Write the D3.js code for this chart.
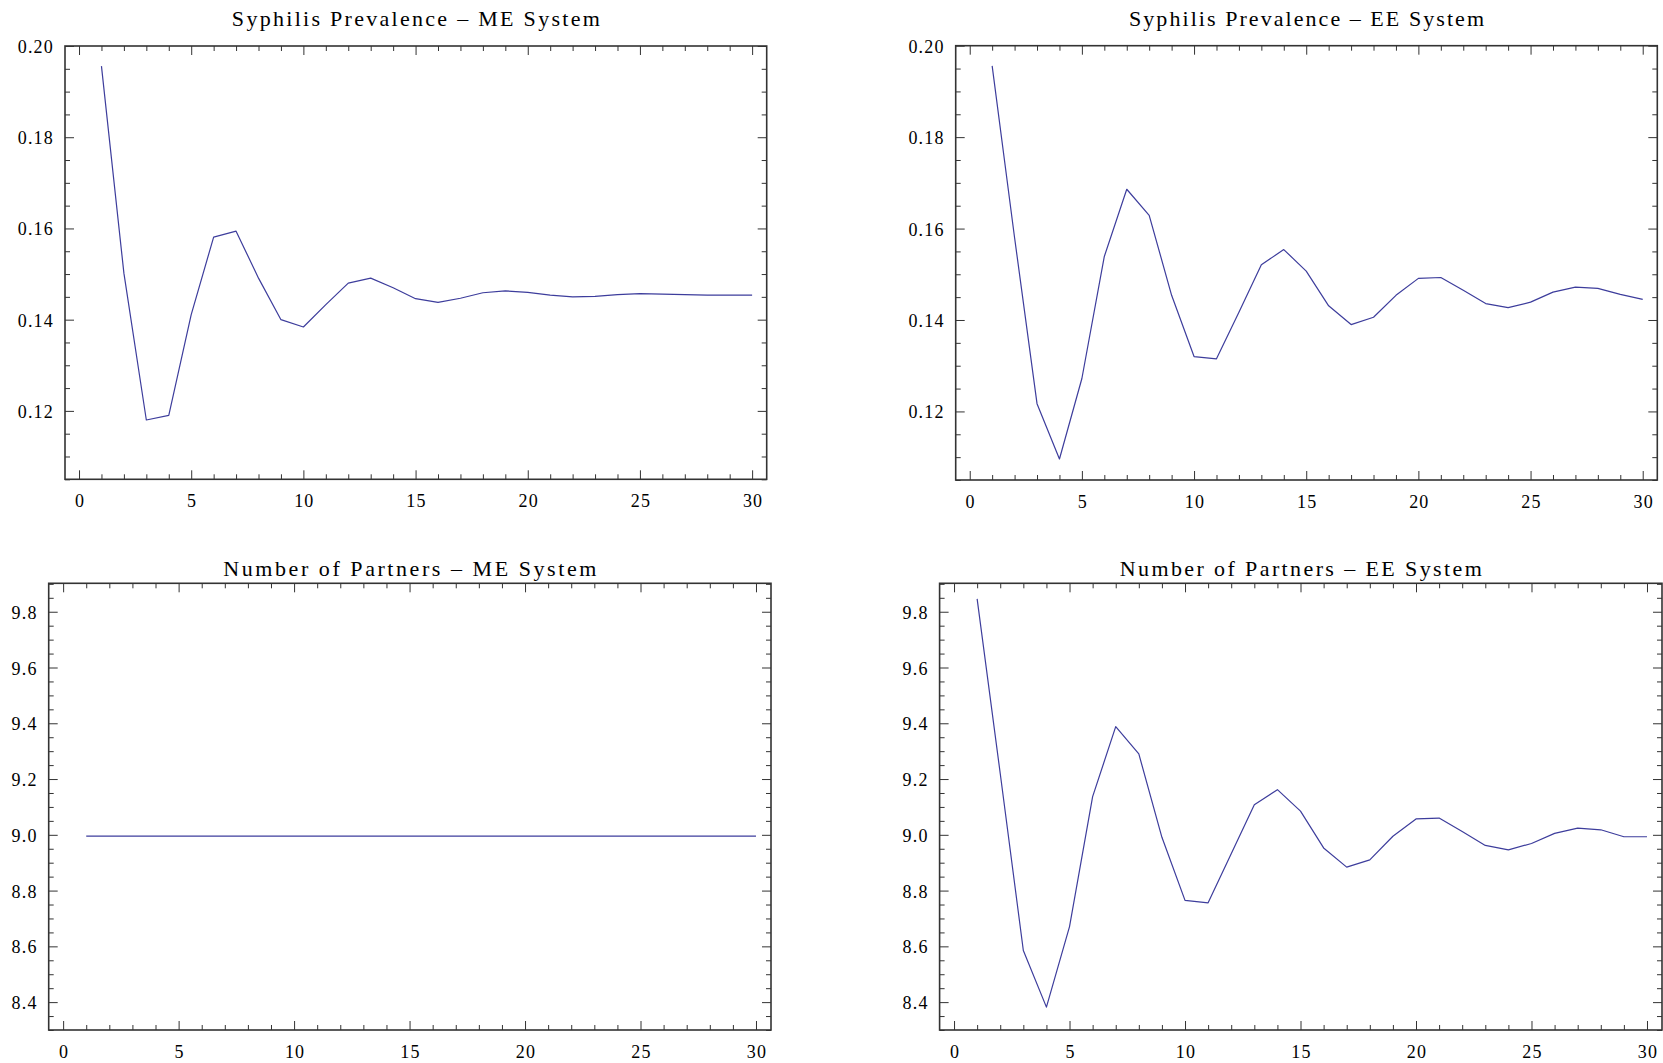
<!DOCTYPE html>
<html>
<head>
<meta charset="utf-8">
<script src="https://cdn.jsdelivr.net/npm/d3@7"></script>
<style>
  html, body { margin: 0; padding: 0; background: #fff; }
  svg { display: block; }
  svg text { font-family: 'Liberation Serif', 'DejaVu Serif', serif; fill: #000; }
</style>
</head>
<body>
<svg id="chart" width="1663" height="1063"></svg>
<script>
// ---------------- data ----------------
const steps = [1,2,3,4,5,6,7,8,9,10,11,12,13,14,15,16,17,18,19,20,21,22,23,24,25,26,27,28,29,30];

const prevalenceME = [0.1956, 0.1502, 0.1180, 0.1190, 0.1411, 0.1581, 0.1594, 0.1491, 0.1400, 0.1384,
                      0.1433, 0.1480, 0.1491, 0.1470, 0.1446, 0.1438, 0.1447, 0.1459, 0.1463, 0.1460,
                      0.1454, 0.1450, 0.1451, 0.1455, 0.1457, 0.1456, 0.1455, 0.1454, 0.1454, 0.1454];

const prevalenceEE = [0.1956, 0.1580, 0.1217, 0.1096, 0.1272, 0.1539, 0.1686, 0.1629, 0.1454, 0.1320,
                      0.1315, 0.1417, 0.1521, 0.1554, 0.1507, 0.1431, 0.1390, 0.1406, 0.1454, 0.1491,
                      0.1493, 0.1465, 0.1436, 0.1427, 0.1439, 0.1461, 0.1472, 0.1469, 0.1456, 0.1445];

const partnersME = [8.995, 8.995, 8.995, 8.995, 8.995, 8.995, 8.995, 8.995, 8.995, 8.995,
                    8.995, 8.995, 8.995, 8.995, 8.995, 8.995, 8.995, 8.995, 8.995, 8.995,
                    8.995, 8.995, 8.995, 8.995, 8.995, 8.995, 8.995, 8.995, 8.995, 8.995];

const partnersEE = [9.846, 9.220, 8.585, 8.382, 8.671, 9.137, 9.388, 9.290, 8.991, 8.765,
                    8.756, 8.932, 9.108, 9.162, 9.085, 8.953, 8.884, 8.910, 8.995, 9.057,
                    9.060, 9.012, 8.962, 8.946, 8.969, 9.005, 9.024, 9.018, 8.993, 8.993];

const xTickLabels = [0, 5, 10, 15, 20, 25, 30];
const prevalenceTickLabels = [0.12, 0.14, 0.16, 0.18, 0.20];
const partnersTickLabels = [8.4, 8.6, 8.8, 9.0, 9.2, 9.4, 9.6, 9.8];

const titles = ["Syphilis Prevalence \u2013 ME System", "Syphilis Prevalence \u2013 EE System",
                "Number of Partners \u2013 ME System", "Number of Partners \u2013 EE System"];

// ---------------- layout ----------------
const xDomain = [-0.625, 30.65];
const prevDomain = [0.105, 0.2];
const partDomain = [8.30, 9.902];
const FONT = "'Liberation Serif', 'DejaVu Serif', serif";

const panels = [
  { title: titles[0], values: prevalenceME, yDomain: prevDomain, yTicks: prevalenceTickLabels, fmt: d3.format(".2f"), minorCount: 19,
    box: { left: 65, right: 766.7, top: 46, bottom: 479.3 }, titleY: 26, titleW: 368 },
  { title: titles[1], values: prevalenceEE, yDomain: prevDomain, yTicks: prevalenceTickLabels, fmt: d3.format(".2f"), minorCount: 19,
    box: { left: 955.7, right: 1657.3, top: 45.7, bottom: 480 }, titleY: 26, titleW: 355 },
  { title: titles[2], values: partnersME, yDomain: partDomain, yTicks: partnersTickLabels, fmt: d3.format(".1f"), minorCount: 32,
    box: { left: 48.7, right: 771, top: 583.3, bottom: 1030 }, titleY: 576, titleW: 373 },
  { title: titles[3], values: partnersEE, yDomain: partDomain, yTicks: partnersTickLabels, fmt: d3.format(".1f"), minorCount: 32,
    box: { left: 939.6, right: 1662, top: 583.3, bottom: 1030 }, titleY: 576, titleW: 362 }
];

const svg = d3.select("#chart");
const lineColor = "#3d3d9c";
const frameColor = "#333";
const majorLen = 9, minorLen = 5;

panels.forEach(p => {
  const b = p.box;
  const x = d3.scaleLinear().domain(xDomain).range([b.left, b.right]);
  const y = d3.scaleLinear().domain(p.yDomain).range([b.bottom, b.top]);
  const g = svg.append("g");

  const xMinor = x.ticks(30).filter(v => xTickLabels.indexOf(v) < 0);
  const yMinor = y.ticks(p.minorCount).filter(v => !p.yTicks.some(t => Math.abs(t - v) < 1e-9));

  const mk = (axisFn, scale, vals, len, tr) => {
    const a = axisFn(scale).tickValues(vals).tickSize(-len).tickSizeOuter(0).tickFormat("");
    const ag = g.append("g").attr("transform", tr).call(a);
    ag.select(".domain").remove();
    ag.selectAll("line").attr("stroke", frameColor).attr("stroke-width", 1);
  };
  mk(d3.axisBottom, x, xTickLabels, majorLen, `translate(0,${b.bottom})`);
  mk(d3.axisBottom, x, xMinor, minorLen, `translate(0,${b.bottom})`);
  mk(d3.axisTop, x, xTickLabels, majorLen, `translate(0,${b.top})`);
  mk(d3.axisTop, x, xMinor, minorLen, `translate(0,${b.top})`);
  mk(d3.axisLeft, y, p.yTicks, majorLen, `translate(${b.left},0)`);
  mk(d3.axisLeft, y, yMinor, minorLen, `translate(${b.left},0)`);
  mk(d3.axisRight, y, p.yTicks, majorLen, `translate(${b.right},0)`);
  mk(d3.axisRight, y, yMinor, minorLen, `translate(${b.right},0)`);

  g.append("rect")
    .attr("x", b.left).attr("y", b.top)
    .attr("width", b.right - b.left).attr("height", b.bottom - b.top)
    .attr("fill", "none").attr("stroke", frameColor).attr("stroke-width", 1.6);

  g.selectAll("text.xl").data(xTickLabels).enter().append("text")
    .attr("class", "xl")
    .attr("font-family", FONT)
    .attr("x", d => x(d) + 1)
    .attr("y", b.bottom + 28)
    .attr("text-anchor", "middle")
    .attr("font-size", 18)
    .attr("letter-spacing", 1.2)
    .text(d => d);

  g.selectAll("text.yl").data(p.yTicks).enter().append("text")
    .attr("class", "yl")
    .attr("font-family", FONT)
    .attr("x", b.left - 11)
    .attr("y", d => y(d) + 7)
    .attr("text-anchor", "end")
    .attr("font-size", 18)
    .attr("letter-spacing", 1.2)
    .text(d => p.fmt(d));

  g.append("text")
    .attr("font-family", FONT)
    .attr("x", (b.left + b.right) / 2)
    .attr("y", p.titleY)
    .attr("text-anchor", "middle")
    .attr("font-size", 22)
    .attr("textLength", p.titleW)
    .attr("lengthAdjust", "spacing")
    .text(p.title);

  const line = d3.line().x((d, i) => x(steps[i])).y(d => y(d));
  g.append("path")
    .datum(p.values)
    .attr("d", line)
    .attr("fill", "none")
    .attr("stroke", lineColor)
    .attr("stroke-width", 1.2)
    .attr("stroke-linejoin", "round");
});
</script>
</body>
</html>
